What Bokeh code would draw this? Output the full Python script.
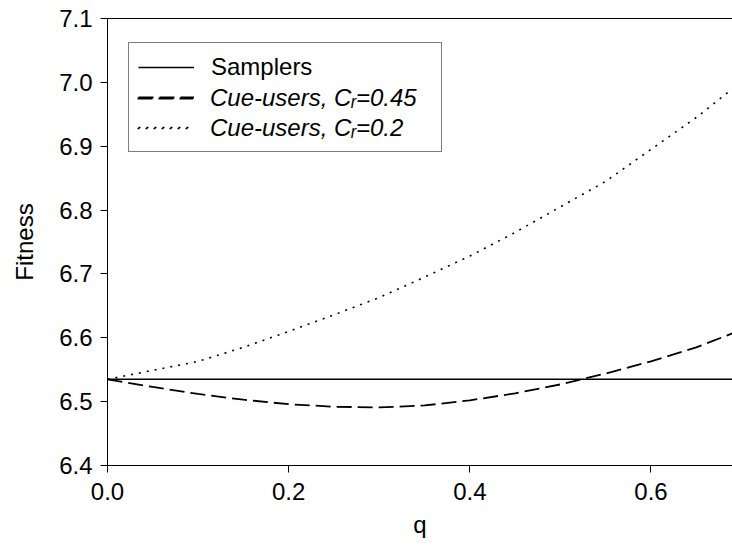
from bokeh.plotting import figure
from bokeh.models import (Range1d, FixedTicker, PrintfTickFormatter, Legend,
                          LegendItem, LinearAxis)
from bokeh.embed import file_html
from bokeh.resources import INLINE

# ---- data ----
q = [0.0, 0.05, 0.10, 0.15, 0.20, 0.25, 0.30, 0.35, 0.40, 0.45, 0.50,
     0.55, 0.60, 0.65, 0.69]
samplers = [6.535] * len(q)
cue_045 = [6.535, 6.523, 6.512, 6.503, 6.496, 6.492, 6.491, 6.494, 6.502,
           6.513, 6.527, 6.544, 6.563, 6.585, 6.607]
cue_02 = [6.535, 6.549, 6.563, 6.585, 6.610, 6.636, 6.663, 6.695, 6.728,
          6.765, 6.805, 6.845, 6.895, 6.945, 6.990]
x_ticks = [0.0, 0.2, 0.4, 0.6]
y_ticks = [6.4, 6.5, 6.6, 6.7, 6.8, 6.9, 7.0, 7.1]
labels = ["Samplers", "Cue-users, C\u1d63=0.45", "Cue-users, C\u1d63=0.2"]

FONT = "Liberation Sans"
FS = "24px"

p = figure(width=732, height=556,
           x_range=Range1d(0, 0.69), y_range=Range1d(6.4, 7.1),
           output_backend="svg", toolbar_location=None,
           min_border_left=107, min_border_right=0,
           min_border_top=18, min_border_bottom=91,
           x_axis_label="q", y_axis_label="Fitness")
p.grid.visible = False
p.outline_line_color = None
p.background_fill_color = "white"
p.border_fill_color = "white"

r1 = p.line(q, samplers, line_color="black", line_width=1.5)
r2 = p.line(q, cue_045, line_color="black", line_width=1.8, line_dash="15 6")
r3 = p.line(q, cue_02, line_color="black", line_width=1.6, line_dash="2 6")

for ax in (p.xaxis[0], p.yaxis[0]):
    ax.axis_line_color = "black"
    ax.axis_line_width = 1
    ax.major_tick_line_color = "black"
    ax.major_tick_out = 7
    ax.major_tick_in = 0
    ax.minor_tick_line_color = None
    ax.major_label_text_font = FONT
    ax.major_label_text_font_size = FS
    ax.major_label_text_color = "black"
    ax.axis_label_text_font = FONT
    ax.axis_label_text_font_size = FS
    ax.axis_label_text_font_style = "normal"
    ax.axis_label_text_color = "black"
    ax.formatter = PrintfTickFormatter(format="%.1f")

p.xaxis[0].ticker = FixedTicker(ticks=x_ticks)
p.yaxis[0].ticker = FixedTicker(ticks=y_ticks)
p.xaxis[0].major_label_standoff = 10
p.yaxis[0].major_label_standoff = 8
p.xaxis[0].axis_label_standoff = 8
p.yaxis[0].axis_label_standoff = 18

top = LinearAxis(ticker=FixedTicker(ticks=[]), major_label_text_font_size="0px",
                 major_tick_out=0, major_tick_in=0, minor_tick_out=0,
                 minor_tick_in=0, axis_line_color="black")
p.add_layout(top, "above")

common = dict(glyph_width=56, glyph_height=30, label_height=30,
              label_standoff=17, spacing=0, padding=9, margin=0,
              label_text_font=FONT, label_text_font_size=FS,
              label_text_color="black", background_fill_alpha=0,
              location=(21, 313))

leg1 = Legend(items=[LegendItem(label=labels[0], renderers=[r1]),
                     LegendItem(label=" ", renderers=[r2]),
                     LegendItem(label=" ", renderers=[r3])],
              label_width=221, border_line_color="black",
              border_line_width=1, **common)
leg2 = Legend(items=[LegendItem(label=labels[1], renderers=[r2]),
                     LegendItem(label=labels[2], renderers=[r3])],
              label_width=221, border_line_alpha=0,
              label_text_font_style="italic", **common)
p.add_layout(leg1)
p.add_layout(leg2)

open("out.html", "w").write(file_html(p, INLINE))
